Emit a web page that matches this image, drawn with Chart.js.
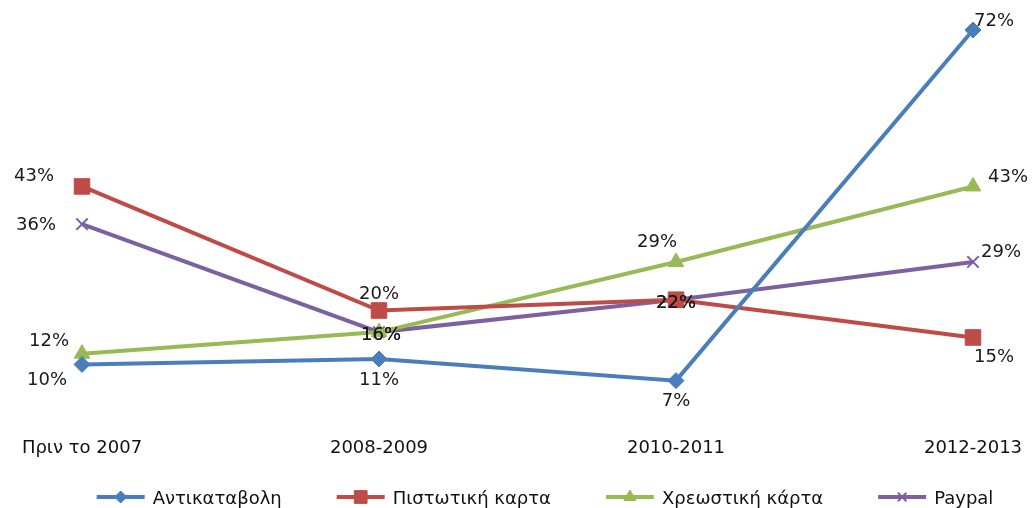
<!DOCTYPE html>
<html>
<head>
<meta charset="utf-8">
<script src="https://cdn.jsdelivr.net/npm/chart.js@4.4.1/dist/chart.umd.min.js"></script>
<style>
  html, body { margin: 0; padding: 0; background: #fff; }
  #wrap { width: 1032px; height: 508px; }
</style>
</head>
<body>
<div id="wrap"><canvas id="chart" width="1032" height="508"></canvas></div>
<script>
// categories + series (percent)
const categories = ["Πριν το 2007", "2008-2009", "2010-2011", "2012-2013"];
const seriesNames = ["Αντικαταβολη", "Πιστωτική καρτα", "Χρεωστική κάρτα", "Paypal"];
const antikatavoli = [10, 11, 7, 72];
const pistotiki = [43, 20, 22, 15];
const xreostiki = [12, 16, 29, 43];
const paypal = [36, 16, 22, 29];

// where each value label sits relative to its point (px)
const shiftAntikatavoli = [[-35, 16], [0, 21], [0, 21], [21, -9]];
const shiftPistotiki = [[-48, -10], [0, -16], [0, 4], [21, 20]];
const shiftXreostiki = [[-33, -12], [2, 3], [-19, -20], [35, -9]];
const shiftPaypal = [[-46, 1], [2, 3], [0, 4], [28, -10]];

const FONT = "DejaVu Sans";

const valueLabels = {
  id: "valueLabels",
  afterDatasetsDraw(chart) {
    const ctx = chart.ctx;
    ctx.save();
    ctx.font = "18px '" + FONT + "'";
    ctx.fillStyle = "#1a1a1a";
    ctx.textAlign = "center";
    ctx.textBaseline = "middle";
    chart.data.datasets.forEach((ds, i) => {
      const meta = chart.getDatasetMeta(i);
      meta.data.forEach((pt, j) => {
        const s = ds.labelShift[j];
        ctx.fillText(ds.data[j] + "%", pt.x + s[0], pt.y + s[1]);
      });
    });
    ctx.restore();
  },
};

// excel-style legend along the bottom: short line + marker, then name
const lineLegend = {
  id: "lineLegend",
  afterDraw(chart) {
    const ctx = chart.ctx;
    const lineW = 48, gapText = 8, gapItem = 55;
    const y = 497;
    ctx.save();
    ctx.font = "18px '" + FONT + "'";
    const widths = chart.data.datasets.map((ds) => ctx.measureText(ds.label).width);
    let total = gapItem * (widths.length - 1);
    widths.forEach((w) => (total += lineW + gapText + w));
    let x = 545 - total / 2;
    chart.data.datasets.forEach((ds, i) => {
      ctx.strokeStyle = ds.borderColor;
      ctx.lineWidth = 4;
      ctx.beginPath();
      ctx.moveTo(x, y);
      ctx.lineTo(x + lineW, y);
      ctx.stroke();
      ctx.fillStyle = ds.borderColor;
      ctx.lineWidth = ds.pointStyle === "crossRot" ? 2 : 1;
      Chart.helpers.drawPoint(ctx, {
        pointStyle: ds.pointStyle,
        radius: ds.legendRadius,
        borderWidth: ctx.lineWidth,
        rotation: 0,
      }, x + lineW / 2, y);
      ctx.fillStyle = "#111";
      ctx.textAlign = "left";
      ctx.textBaseline = "alphabetic";
      ctx.fillText(ds.label, x + lineW + gapText, 504);
      x += lineW + gapText + widths[i] + gapItem;
    });
    ctx.restore();
  },
};

const colors = ["#4a7ebb", "#be4b48", "#98b954", "#7d60a0"];
const styles = ["rectRot", "rect", "triangle", "crossRot"];
const radii = [8, 11, 9, 8];
const legendRadii = [6, 9, 7, 6];
const values = [antikatavoli, pistotiki, xreostiki, paypal];
const shifts = [shiftAntikatavoli, shiftPistotiki, shiftXreostiki, shiftPaypal];

const datasets = seriesNames.map((name, i) => ({
  label: name,
  data: values[i],
  labelShift: shifts[i],
  legendRadius: legendRadii[i],
  borderColor: colors[i],
  backgroundColor: colors[i],
  borderWidth: 4,
  tension: 0,
  pointStyle: styles[i],
  pointRadius: radii[i],
  pointHoverRadius: radii[i],
  pointBackgroundColor: colors[i],
  pointBorderColor: colors[i],
  pointBorderWidth: styles[i] === "crossRot" ? 2 : 1,
  clip: false,
}));

new Chart(document.getElementById("chart"), {
  type: "line",
  data: { labels: categories, datasets: datasets },
  options: {
    responsive: false,
    animation: false,
    layout: { padding: { left: 82, right: 59, top: 30, bottom: 30 } },
    plugins: {
      tooltip: { enabled: false },
      legend: { display: false },
    },
    scales: {
      x: {
        grid: { display: false, drawTicks: false },
        border: { display: false },
        afterFit(scale) {
          // edge labels may spill into the layout padding
          scale.paddingLeft = 0;
          scale.paddingRight = 0;
        },
        ticks: {
          color: "#111",
          padding: 19,
          maxRotation: 0,
          font: { family: FONT, size: 18 },
        },
      },
      y: { display: false, min: 0, max: 72 },
    },
  },
  plugins: [valueLabels, lineLegend],
});
</script>
</body>
</html>
